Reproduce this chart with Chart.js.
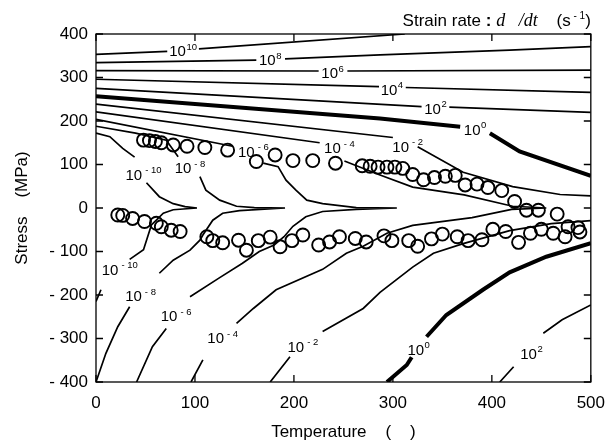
<!DOCTYPE html>
<html>
<head>
<meta charset="utf-8">
<script src="https://cdn.jsdelivr.net/npm/chart.js@4.4.1/dist/chart.umd.min.js"></script>
<style>
  html, body { margin: 0; padding: 0; background: #fff; }
</style>
</head>
<body>
<canvas id="chart" width="616" height="448"></canvas>
<script>
// axis ticks
const tempTicks = [0, 100, 200, 300, 400, 500];
const stressTicks = [400, 300, 200, 100, 0, -100, -200, -300, -400];

// strain-rate contours, [temperature (C), stress (MPa)]; null leaves a gap for the label
const rateP10 = [[0, 353], [72, 360], null, [104, 366], [312, 400]];
const rateP8 = [[0, 334], [162, 340], null, [191, 343], [287, 352], [418, 363], [500, 371]];
const rateP6 = [[0, 316], [225, 315], null, [254, 315], [500, 317]];
const rateP4 = [[0, 296], [286, 279], null, [313, 277], [500, 266]];
const rateP2Up = [[0, 275], [329, 233], null, [357, 232], [500, 220]];
const rate0Up = [[0, 257], [287, 206], [368, 187], null, [398, 172], [428, 130], [500, 74]];
const rateM2Up = [[0, 239], [300, 162], null, [325, 141], [371, 82], [421, 49], [469, 31], [500, 28]];
const rateM4 = [[0, 221], [226, 150], null, [251, 108], [287, 76], [320, 48], [372, 30], [421, 4], [455, 0],
  [420, -3], [380, -22], [320, -40], [294, -58], [270, -88], [253, -104], [229, -141], [182, -188],
  [159, -231], [142, -265], null, [108, -349], [96, -400]];
const rateM6 = [[0, 204], [138, 142], null, [169, 103], [184, 95], [192, 64], [202, 41], [213, 18], [229, 10],
  [263, 1], [304, 0], [263, -3], [229, -8], [212, -20], [199, -42], [190, -66], [180, -85], [165, -100],
  [148, -127], [125, -160], [95, -204], null, [71, -277], [57, -319], [41, -400]];
const rateM8 = [[0, 188], [40, 172], [71, 156], [83, 118], null, [105, 72], [111, 41], [125, 18], [142, 4],
  [160, 1], [191, 0], [145, -6], [128, -12], [118, -28], [108, -62], [105, -74], [95, -97], [78, -120],
  [64, -150], null, [34, -227], [22, -273], [10, -334], [0, -400]];
const rateM10 = [[0, 172], [14, 164], [27, 137], [39, 117], null, [51, 58], [64, 26], [78, 10], [90, 3],
  [102, 0], [78, -4], [68, -12], [56, -39], [48, -96], [34, -118], null, [5, -188], [0, -215]];
const rateM2Low = [[176, -400], [196, -342], null, [229, -284], [270, -231], [287, -194], [320, -136],
  [341, -104], [371, -82], [418, -52], [460, -36], [500, -29]];
const rate0Low = [[294, -400], [314, -361], [319, -343], null, [334, -296], [354, -246], [391, -188],
  [418, -148], [455, -112], [500, -81]];
const rateP2Low = [[408, -400], [422, -365], null, [452, -288], [471, -257], [500, -223]];

// contour labels: exponent and where the label sits
const labelExp = [10, 8, 6, 4, 2, 0, -2, -4, -6, -8, -10, -10, -8, -6, -4, -2, 0, 2];
const labelTemp = [88, 176, 239, 299, 343, 383, 315, 246, 159, 95, 48, 24, 45, 81, 128, 209, 326, 440];
const labelStress = [364, 343, 313, 275, 232, 183, 144, 141, 133, 95, 80, -139, -199, -245, -296, -316, -322, -332];

// measured points (open circles)
const tensionPts = [[48, 156], [54, 155], [60, 153], [66, 150], [78, 145], [92, 142], [110, 139], [133, 133],
  [162, 107], [181, 122], [199, 109], [219, 109], [242, 103], [269, 97], [277, 96], [285, 94], [294, 94],
  [302, 94], [310, 91], [320, 77], [331, 65], [342, 70], [353, 73], [363, 75], [373, 53], [385, 55],
  [396, 47], [410, 40], [423, 15], [435, -5], [447, -5], [466, -14]];
const compressionPts = [[22, -16], [27, -17], [37, -24], [49, -31], [61, -35], [66, -43], [76, -51], [85, -54],
  [112, -66], [118, -75], [128, -80], [144, -74], [152, -97], [164, -75], [176, -67], [186, -89], [198, -75],
  [209, -62], [225, -85], [236, -78], [246, -66], [262, -70], [273, -78], [291, -64], [299, -75], [316, -75],
  [325, -88], [339, -71], [350, -60], [365, -66], [376, -75], [390, -73], [401, -49], [414, -54], [427, -79],
  [439, -58], [450, -49], [462, -58], [474, -66], [477, -43], [487, -45], [489, -55]];

const SANS = '"Liberation Sans", Arial, sans-serif';
const SERIF = '"Liberation Serif", "Times New Roman", serif';

// turn [t, s] pairs into chart points, null -> break in the line
function toPoints(pairs) {
  let lastX = 0;
  return pairs.map(p => {
    if (!p) return { x: lastX, y: null };
    lastX = p[0];
    return { x: p[0], y: p[1] };
  });
}

function contour(pairs, thick) {
  return {
    data: toPoints(pairs),
    showLine: true,
    spanGaps: false,
    borderColor: '#000',
    borderWidth: thick ? 4 : 1.7,
    pointRadius: 0,
    fill: false
  };
}

function circles(pairs) {
  return {
    data: toPoints(pairs),
    showLine: false,
    pointRadius: 6.5,
    pointBorderWidth: 1.9,
    pointBorderColor: '#000',
    pointBackgroundColor: 'rgba(0,0,0,0)'
  };
}

// frame plus inward tick marks on all four sides
const frameTicks = {
  id: 'frameTicks',
  afterDatasetsDraw(chart) {
    const { ctx, chartArea: a, scales: { x, y } } = chart;
    const len = 7;
    ctx.save();
    ctx.strokeStyle = '#000';
    ctx.lineWidth = 1.3;
    ctx.strokeRect(a.left, a.top, a.right - a.left, a.bottom - a.top);
    ctx.beginPath();
    tempTicks.forEach(t => {
      const px = x.getPixelForValue(t);
      ctx.moveTo(px, a.bottom); ctx.lineTo(px, a.bottom - len);
      ctx.moveTo(px, a.top); ctx.lineTo(px, a.top + len);
    });
    stressTicks.forEach(s => {
      const py = y.getPixelForValue(s);
      ctx.moveTo(a.left, py); ctx.lineTo(a.left + len, py);
      ctx.moveTo(a.right, py); ctx.lineTo(a.right - len, py);
    });
    ctx.stroke();
    ctx.restore();
  }
};

// "10^n" labels on the contours
const rateLabels = {
  id: 'rateLabels',
  afterDatasetsDraw(chart) {
    const { ctx, scales: { x, y } } = chart;
    const baseFont = '15px ' + SANS;
    const supFont = '9.5px ' + SANS;
    ctx.save();
    ctx.fillStyle = '#000';
    ctx.textBaseline = 'alphabetic';
    ctx.textAlign = 'left';
    labelExp.forEach((e, i) => {
      const cx = x.getPixelForValue(labelTemp[i]);
      const cy = y.getPixelForValue(labelStress[i]);
      const sup = e < 0 ? '- ' + (-e) : String(e);
      ctx.font = baseFont;
      const wb = ctx.measureText('10').width;
      ctx.font = supFont;
      const ws = ctx.measureText(sup).width;
      const gap = e < 0 ? 3 : 0.5;
      const left = cx - (wb + gap + ws) / 2;
      const base = cy + 6.5;
      ctx.font = baseFont;
      ctx.fillText('10', left, base);
      ctx.font = supFont;
      ctx.fillText(sup, left + wb + gap, base - 6.5);
    });
    ctx.restore();
  }
};

// "Strain rate : dε/dt (s-1)" heading, right aligned to the plot
const rateTitle = {
  id: 'rateTitle',
  afterDraw(chart) {
    const { ctx, chartArea: a } = chart;
    const parts = [
      { t: 'Strain rate ', f: '17px ' + SANS },
      { t: ':', f: 'bold 17px ' + SANS },
      { t: ' ', f: '17px ' + SANS },
      { t: 'd', f: 'italic 18px ' + SERIF },
      { t: '   /', f: 'italic 18px ' + SERIF },
      { t: 'dt', f: 'italic 18px ' + SERIF },
      { t: '    (s', f: '17px ' + SANS },
      { t: ' - 1', f: '10px ' + SANS, up: 7 },
      { t: ')', f: '17px ' + SANS }
    ];
    ctx.save();
    ctx.fillStyle = '#000';
    ctx.textBaseline = 'alphabetic';
    ctx.textAlign = 'left';
    let total = 0;
    parts.forEach(p => { ctx.font = p.f; p.w = ctx.measureText(p.t).width; total += p.w; });
    let px = a.right - total;
    const base = 26;
    parts.forEach(p => {
      ctx.font = p.f;
      ctx.fillText(p.t, px, base - (p.up || 0));
      px += p.w;
    });
    ctx.restore();
  }
};

new Chart(document.getElementById('chart'), {
  type: 'scatter',
  data: {
    datasets: [
      circles(tensionPts),
      circles(compressionPts),
      contour(rateP10), contour(rateP8), contour(rateP6), contour(rateP4), contour(rateP2Up),
      contour(rate0Up, true), contour(rateM2Up), contour(rateM4), contour(rateM6), contour(rateM8),
      contour(rateM10), contour(rateM2Low), contour(rate0Low, true), contour(rateP2Low)
    ]
  },
  options: {
    responsive: false,
    animation: false,
    devicePixelRatio: 1,
    events: [],
    layout: { padding: { top: 34, right: 25, left: 0, bottom: 0 } },
    plugins: {
      legend: { display: false },
      tooltip: { enabled: false },
      title: { display: false }
    },
    scales: {
      x: {
        type: 'linear',
        min: 0,
        max: 500,
        afterFit: s => { s.height = 66; },
        afterBuildTicks: s => { s.ticks = tempTicks.map(v => ({ value: v })); },
        grid: { display: false, drawTicks: false },
        border: { display: false },
        ticks: { color: '#000', font: { family: SANS, size: 17 }, padding: 11, maxRotation: 0 },
        title: {
          display: true,
          text: 'Temperature    (    )',
          color: '#000',
          font: { family: SANS, size: 17 },
          padding: { top: 0, bottom: 5 }
        }
      },
      y: {
        type: 'linear',
        min: -400,
        max: 400,
        afterFit: s => { s.width = 96; },
        afterBuildTicks: s => { s.ticks = stressTicks.map(v => ({ value: v })); },
        grid: { display: false, drawTicks: false },
        border: { display: false },
        ticks: {
          color: '#000',
          font: { family: SANS, size: 17 },
          padding: 8,
          callback: v => (v < 0 ? '- ' + (-v) : String(v))
        },
        title: {
          display: true,
          text: 'Stress    (MPa)',
          color: '#000',
          font: { family: SANS, size: 17 },
          padding: { top: 12, bottom: 0 }
        }
      }
    }
  },
  plugins: [frameTicks, rateLabels, rateTitle]
});
</script>
</body>
</html>
